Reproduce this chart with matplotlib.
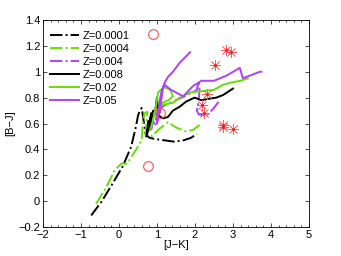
import numpy as np
import matplotlib.pyplot as plt

plt.rcParams['font.family'] = ['Liberation Sans', 'DejaVu Sans']

# Z=0.0001 (dash-dot, black)
x1 = [-0.73, -0.45, -0.16, 0.1, 0.32, 0.45, 0.5, 0.55, 0.6, 0.65, 0.7, 0.8, 0.95, 1.2, 1.45, 1.7, 1.9, 2.05]
y1 = [-0.11, 0.0, 0.14, 0.27, 0.42, 0.58, 0.66, 0.70, 0.72, 0.62, 0.52, 0.49, 0.48, 0.47, 0.46, 0.47, 0.49, 0.52]

# Z=0.0004 (dash-dot, green)
x2 = [-0.6, -0.33, -0.11, 0.06, 0.22, 0.32, 0.5, 0.6, 0.63, 0.68, 0.75, 0.7, 0.85, 1.07, 1.29, 1.5, 1.75, 1.95, 2.12]
y2 = [-0.02, 0.11, 0.24, 0.29, 0.29, 0.34, 0.42, 0.48, 0.62, 0.68, 0.69, 0.52, 0.50, 0.56, 0.61, 0.57, 0.54, 0.55, 0.59]

# Z=0.004 (dash-dot, purple)
x3 = [0.85, 0.9, 0.95, 1.0, 1.05, 1.1, 1.2, 1.5, 1.8, 2.05, 2.1, 2.12, 2.1, 2.05, 2.1, 2.3, 2.5, 2.65]
y3 = [0.55, 0.62, 0.58, 0.68, 0.63, 0.72, 0.74, 0.78, 0.82, 0.86, 0.93, 0.86, 0.78, 0.70, 0.67, 0.66, 0.72, 0.78]

# Z=0.008 (solid, black)
x4 = [0.72, 0.78, 0.74, 0.85, 0.8, 0.9, 0.95, 1.0, 1.05, 1.16, 1.29, 1.42, 1.6, 1.77, 1.99, 2.17, 2.34, 2.56, 2.74, 3.0]
y4 = [0.50, 0.62, 0.52, 0.68, 0.55, 0.70, 0.69, 0.80, 0.66, 0.64, 0.65, 0.70, 0.73, 0.77, 0.80, 0.78, 0.79, 0.80, 0.82, 0.87]

# Z=0.02 (solid, green)
x5 = [0.82, 0.9, 0.95, 1.0, 1.03, 1.1, 1.2, 1.35, 1.42, 1.3, 1.15, 1.05, 1.1, 1.25, 1.42, 1.6, 1.87, 2.17, 2.5, 2.74, 3.0, 3.2, 3.39]
y5 = [0.55, 0.63, 0.70, 0.78, 0.84, 0.86, 0.88, 0.86, 0.81, 0.78, 0.76, 0.72, 0.74, 0.75, 0.76, 0.80, 0.84, 0.85, 0.86, 0.90, 0.92, 0.93, 0.95]

# Z=0.05 (solid, purple)
x6 = [1.87, 1.6, 1.42, 1.29, 1.21, 1.13, 1.08, 1.05, 1.0, 1.05, 1.1, 1.15, 1.2, 1.37, 1.5, 1.69, 1.95, 2.17, 2.5, 2.83, 3.18, 3.26, 3.53, 3.71, 3.75]
y6 = [1.15, 1.07, 1.0, 0.96, 0.92, 0.86, 0.79, 0.70, 0.60, 0.68, 0.75, 0.86, 0.90, 0.86, 0.84, 0.81, 0.89, 0.93, 0.93, 0.97, 1.03, 0.95, 0.98, 1.0, 1.0]

# observed stars
circ_x = [0.9, 0.76, 1.07]
circ_y = [1.29, 0.27, 0.68]
ast_x = [2.83, 2.96, 2.54, 2.32, 2.18, 2.23, 2.74, 2.75, 3.0]
ast_y = [1.17, 1.15, 1.05, 0.83, 0.74, 0.68, 0.59, 0.57, 0.56]

green = '#66e000'
purple = '#b040ff'

fig = plt.figure(figsize=(3.41, 2.56), dpi=100)
ax = fig.add_axes([0.126, 0.113, 0.780, 0.809])

ax.plot(x1, y1, '-.', color='black', lw=1.4, label='Z=0.0001')
ax.plot(x2, y2, '-.', color=green, lw=1.4, label='Z=0.0004')
ax.plot(x3, y3, '-.', color=purple, lw=1.4, label='Z=0.004')
ax.plot(x4, y4, '-', color='black', lw=1.4, label='Z=0.008')
ax.plot(x5, y5, '-', color=green, lw=1.4, label='Z=0.02')
ax.plot(x6, y6, '-', color=purple, lw=1.4, label='Z=0.05')

ax.plot(circ_x, circ_y, 'o', mfc='none', mec='#ff5050', ms=7, mew=0.8)
ax.plot(ast_x, ast_y, linestyle='none', marker=(8, 2, 0), color='#ff6060', ms=8, mew=0.5)
ax.plot(ast_x, ast_y, linestyle='none', marker='o', color='#e02020', ms=2, mew=0)

ax.set_xlim(-2, 5)
ax.set_ylim(-0.2, 1.4)
ax.set_xticks(np.arange(-2, 6, 1))
ax.set_xticks(np.arange(-2, 5.01, 0.2), minor=True)
ax.set_yticks(np.arange(-0.2, 1.41, 0.2))
ax.set_yticklabels(['\u22120.2', '0', '0.2', '0.4', '0.6', '0.8', '1', '1.2', '1.4'])
ax.set_xticklabels(['\u22122', '\u22121', '0', '1', '2', '3', '4', '5'])
ax.tick_params(which='both', direction='in', top=True, right=True, labelsize=8, pad=2, width=0.5)
ax.tick_params(which='major', length=3)
ax.tick_params(which='minor', length=1.5)
for s in ax.spines.values():
    s.set_linewidth(0.6)

ax.set_xlabel('[J\u2212K]', fontsize=8, labelpad=0)
ax.set_ylabel('[B\u2212J]', fontsize=8, labelpad=2)

ax.legend(loc='upper left', frameon=False, fontsize=8, labelspacing=0.28,
          handlelength=2.6, handletextpad=0.4, borderaxespad=0.2, bbox_to_anchor=(0.0, 0.98))

fig.savefig('out.png', dpi=100)
